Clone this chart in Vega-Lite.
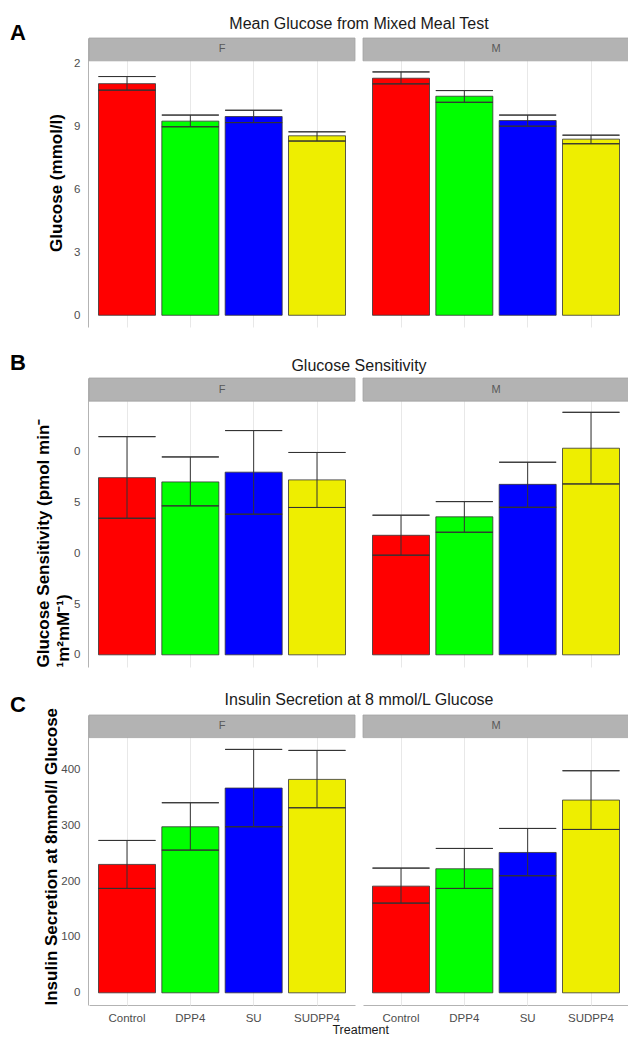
{
  "$schema": "https://vega.github.io/schema/vega-lite/v6.json",
  "background": "white",
  "padding": {"left": 10, "top": 16, "right": 0, "bottom": 0},
  "spacing": 25,
  "title": {"text": "Treatment", "orient": "bottom", "anchor": "middle", "dx": 41, "offset": 0, "fontSize": 12.5, "fontWeight": "normal", "color": "#1a1a1a"},
  "datasets": {
    "glucose": [
      {"Sex": "F", "Treatment": "Control", "mean": 11.06, "lower": 10.75, "upper": 11.40},
      {"Sex": "F", "Treatment": "DPP4", "mean": 9.27, "lower": 9.00, "upper": 9.56},
      {"Sex": "F", "Treatment": "SU", "mean": 9.49, "lower": 9.20, "upper": 9.79},
      {"Sex": "F", "Treatment": "SUDPP4", "mean": 8.57, "lower": 8.32, "upper": 8.76},
      {"Sex": "M", "Treatment": "Control", "mean": 11.32, "lower": 11.05, "upper": 11.62},
      {"Sex": "M", "Treatment": "DPP4", "mean": 10.46, "lower": 10.17, "upper": 10.73},
      {"Sex": "M", "Treatment": "SU", "mean": 9.30, "lower": 9.03, "upper": 9.56},
      {"Sex": "M", "Treatment": "SUDPP4", "mean": 8.41, "lower": 8.19, "upper": 8.60}
    ],
    "sensitivity": [
      {"Sex": "F", "Treatment": "Control", "mean": 87.3, "lower": 67.3, "upper": 107.5},
      {"Sex": "F", "Treatment": "DPP4", "mean": 85.2, "lower": 73.4, "upper": 97.5},
      {"Sex": "F", "Treatment": "SU", "mean": 90.0, "lower": 69.3, "upper": 110.5},
      {"Sex": "F", "Treatment": "SUDPP4", "mean": 86.2, "lower": 72.6, "upper": 99.7},
      {"Sex": "M", "Treatment": "Control", "mean": 58.9, "lower": 49.1, "upper": 68.8},
      {"Sex": "M", "Treatment": "DPP4", "mean": 68.0, "lower": 60.4, "upper": 75.5},
      {"Sex": "M", "Treatment": "SU", "mean": 84.0, "lower": 72.7, "upper": 94.9},
      {"Sex": "M", "Treatment": "SUDPP4", "mean": 101.8, "lower": 84.2, "upper": 119.5}
    ],
    "insulin": [
      {"Sex": "F", "Treatment": "Control", "mean": 229.9, "lower": 186.9, "upper": 272.8},
      {"Sex": "F", "Treatment": "DPP4", "mean": 297.3, "lower": 255.5, "upper": 340.3},
      {"Sex": "F", "Treatment": "SU", "mean": 366.6, "lower": 297.3, "upper": 435.8},
      {"Sex": "F", "Treatment": "SUDPP4", "mean": 382.1, "lower": 331.3, "upper": 434.0},
      {"Sex": "M", "Treatment": "Control", "mean": 191.0, "lower": 160.6, "upper": 223.3},
      {"Sex": "M", "Treatment": "DPP4", "mean": 222.1, "lower": 186.9, "upper": 258.5},
      {"Sex": "M", "Treatment": "SU", "mean": 251.3, "lower": 209.6, "upper": 294.3},
      {"Sex": "M", "Treatment": "SUDPP4", "mean": 345.1, "lower": 292.5, "upper": 397.6}
    ]
  },
  "vconcat": [
    {
      "data": {"name": "glucose"},
      "title": {"text": "A", "anchor": "start", "frame": "group", "dx": -79, "offset": -29, "fontSize": 22, "fontWeight": "bold", "color": "#000000"},
      "facet": {"column": {"field": "Sex", "type": "nominal", "header": {"title": "Mean Glucose from Mixed Meal Test", "titleFontSize": 16, "titleFontWeight": "normal", "titleColor": "#1a1a1a", "titlePadding": -5, "labelPadding": 0, "labels": false}}},
      "spacing": 6,
      "spec": {
        "width": 266,
        "height": 289,
        "layer": [
          {
            "transform": [{"aggregate": [{"op": "count", "as": "n"}], "groupby": ["Sex"]}],
            "mark": {"type": "rect", "fill": "#b3b3b3", "stroke": "#a3a3a3", "strokeWidth": 0.8},
            "encoding": {
              "x": {"value": 0}, "x2": {"value": "width"},
              "y": {"datum": 12.15, "type": "quantitative", "scale": {"domain": [-0.56, 13.24], "nice": false, "zero": false},
                "axis": {"title": "Glucose (mmol/l)", "titleFontSize": 17, "titleFontWeight": "bold", "titleColor": "#000000", "titlePadding": 8,
                  "values": [0, 1.5, 3, 4.5, 6, 7.5, 9, 10.5, 12],
                  "labelExpr": "datum.value % 3 === 0 ? slice(datum.label, -1) : ''",
                  "gridColor": {"condition": {"test": "datum.value % 3 !== 0", "value": "#f4f4f4"}, "value": "#e8e8e8"},
                  "ticks": false, "domainColor": "#b3b3b3", "labelColor": "#4d4d4d", "labelFontSize": 11.5, "labelPadding": 8}},
              "y2": {"datum": 13.24}
            }
          },
          {
            "transform": [{"aggregate": [{"op": "count", "as": "n"}], "groupby": ["Sex"]}],
            "mark": {"type": "text", "fontSize": 11, "color": "#595959", "baseline": "middle"},
            "encoding": {"y": {"datum": 12.7, "type": "quantitative"}, "text": {"field": "Sex"}}
          },
          {
            "mark": {"type": "bar", "stroke": "#333333", "strokeWidth": 0.8},
            "encoding": {
              "x": {"field": "Treatment", "type": "nominal", "sort": ["Control", "DPP4", "SU", "SUDPP4"], "scale": {"paddingInner": 0.1, "paddingOuter": 0.15},
                "axis": {"labels": false, "ticks": false, "domain": false, "title": null, "grid": true, "gridColor": "#e8e8e8", "bandPosition": 0.5}},
              "y": {"field": "mean", "type": "quantitative"},
              "color": {"field": "Treatment", "type": "nominal", "scale": {"domain": ["Control", "DPP4", "SU", "SUDPP4"], "range": ["#ff0000", "#00ff00", "#0000ff", "#eeee00"]}, "legend": null}
            }
          },
          {
            "mark": {"type": "rule", "color": "#333333", "strokeWidth": 1},
            "encoding": {
              "x": {"field": "Treatment", "type": "nominal", "sort": ["Control", "DPP4", "SU", "SUDPP4"]},
              "y": {"field": "lower", "type": "quantitative"}, "y2": {"field": "upper"}
            }
          },
          {
            "mark": {"type": "bar", "fillOpacity": 0, "stroke": "#333333", "strokeWidth": 1},
            "encoding": {
              "x": {"field": "Treatment", "type": "nominal", "sort": ["Control", "DPP4", "SU", "SUDPP4"]},
              "y": {"field": "upper", "type": "quantitative"}, "y2": {"field": "upper"}
            }
          },
          {
            "mark": {"type": "bar", "fillOpacity": 0, "stroke": "#333333", "strokeWidth": 1},
            "encoding": {
              "x": {"field": "Treatment", "type": "nominal", "sort": ["Control", "DPP4", "SU", "SUDPP4"]},
              "y": {"field": "lower", "type": "quantitative"}, "y2": {"field": "lower"}
            }
          }
        ]
      }
    },
    {
      "data": {"name": "sensitivity"},
      "title": {"text": "B", "anchor": "start", "frame": "group", "dx": -79, "offset": -17, "fontSize": 22, "fontWeight": "bold", "color": "#000000"},
      "facet": {"column": {"field": "Sex", "type": "nominal", "header": {"title": "Glucose Sensitivity", "titleFontSize": 16, "titleFontWeight": "normal", "titleColor": "#1a1a1a", "titlePadding": -7, "labelPadding": 0, "labels": false}}},
      "spacing": 6,
      "spec": {
        "width": 266,
        "height": 289,
        "layer": [
          {
            "transform": [{"aggregate": [{"op": "count", "as": "n"}], "groupby": ["Sex"]}],
            "mark": {"type": "rect", "fill": "#b3b3b3", "stroke": "#a3a3a3", "strokeWidth": 0.8},
            "encoding": {
              "x": {"value": 0}, "x2": {"value": "width"},
              "y": {"datum": 125, "type": "quantitative", "scale": {"domain": [-6, 136.4], "nice": false, "zero": false},
                "axis": {"title": ["Glucose Sensitivity (pmol min⁻", "¹m²mM⁻¹)"], "titleFontSize": 17, "titleFontWeight": "bold", "titleColor": "#000000", "titlePadding": 1, "titleLineHeight": 20, "titleAnchor": "start",
                  "values": [0, 12.5, 25, 37.5, 50, 62.5, 75, 87.5, 100, 112.5],
                  "labelExpr": "datum.value % 25 === 0 ? slice(datum.label, -1) : ''",
                  "gridColor": {"condition": {"test": "datum.value % 25 !== 0", "value": "#f4f4f4"}, "value": "#e8e8e8"},
                  "ticks": false, "domainColor": "#b3b3b3", "labelColor": "#4d4d4d", "labelFontSize": 11.5, "labelPadding": 8}},
              "y2": {"datum": 136.4}
            }
          },
          {
            "transform": [{"aggregate": [{"op": "count", "as": "n"}], "groupby": ["Sex"]}],
            "mark": {"type": "text", "fontSize": 11, "color": "#595959", "baseline": "middle"},
            "encoding": {"y": {"datum": 130.7, "type": "quantitative"}, "text": {"field": "Sex"}}
          },
          {
            "mark": {"type": "bar", "stroke": "#333333", "strokeWidth": 0.8},
            "encoding": {
              "x": {"field": "Treatment", "type": "nominal", "sort": ["Control", "DPP4", "SU", "SUDPP4"], "scale": {"paddingInner": 0.1, "paddingOuter": 0.15},
                "axis": {"labels": false, "ticks": false, "domain": false, "title": null, "grid": true, "gridColor": "#e8e8e8", "bandPosition": 0.5}},
              "y": {"field": "mean", "type": "quantitative"},
              "color": {"field": "Treatment", "type": "nominal", "scale": {"domain": ["Control", "DPP4", "SU", "SUDPP4"], "range": ["#ff0000", "#00ff00", "#0000ff", "#eeee00"]}, "legend": null}
            }
          },
          {
            "mark": {"type": "rule", "color": "#333333", "strokeWidth": 1},
            "encoding": {
              "x": {"field": "Treatment", "type": "nominal", "sort": ["Control", "DPP4", "SU", "SUDPP4"]},
              "y": {"field": "lower", "type": "quantitative"}, "y2": {"field": "upper"}
            }
          },
          {
            "mark": {"type": "bar", "fillOpacity": 0, "stroke": "#333333", "strokeWidth": 1},
            "encoding": {
              "x": {"field": "Treatment", "type": "nominal", "sort": ["Control", "DPP4", "SU", "SUDPP4"]},
              "y": {"field": "upper", "type": "quantitative"}, "y2": {"field": "upper"}
            }
          },
          {
            "mark": {"type": "bar", "fillOpacity": 0, "stroke": "#333333", "strokeWidth": 1},
            "encoding": {
              "x": {"field": "Treatment", "type": "nominal", "sort": ["Control", "DPP4", "SU", "SUDPP4"]},
              "y": {"field": "lower", "type": "quantitative"}, "y2": {"field": "lower"}
            }
          }
        ]
      }
    },
    {
      "data": {"name": "insulin"},
      "title": {"text": "C", "anchor": "start", "frame": "group", "dx": -79, "offset": -25, "fontSize": 22, "fontWeight": "bold", "color": "#000000"},
      "facet": {"column": {"field": "Sex", "type": "nominal", "header": {"title": "Insulin Secretion at 8 mmol/L Glucose", "titleFontSize": 16, "titleFontWeight": "normal", "titleColor": "#1a1a1a", "titlePadding": -4, "labelPadding": 0, "labels": false}}},
      "spacing": 6,
      "spec": {
        "width": 266,
        "height": 290,
        "layer": [
          {
            "transform": [{"aggregate": [{"op": "count", "as": "n"}], "groupby": ["Sex"]}],
            "mark": {"type": "rect", "fill": "#b3b3b3", "stroke": "#a3a3a3", "strokeWidth": 0.8},
            "encoding": {
              "x": {"value": 0}, "x2": {"value": "width"},
              "y": {"datum": 456.9, "type": "quantitative", "scale": {"domain": [-21.8, 497.4], "nice": false, "zero": false},
                "axis": {"title": "Insulin Secretion at 8mmol/l Glucose", "titleFontSize": 17, "titleFontWeight": "bold", "titleColor": "#000000", "titlePadding": 0, "titleAnchor": "start",
                  "values": [0, 50, 100, 150, 200, 250, 300, 350, 400, 450],
                  "labelExpr": "datum.value % 100 === 0 ? datum.label : ''",
                  "gridColor": {"condition": {"test": "datum.value % 100 !== 0", "value": "#f4f4f4"}, "value": "#e8e8e8"},
                  "ticks": false, "domainColor": "#b3b3b3", "labelColor": "#4d4d4d", "labelFontSize": 11.5, "labelPadding": 8}},
              "y2": {"datum": 497.4}
            }
          },
          {
            "transform": [{"aggregate": [{"op": "count", "as": "n"}], "groupby": ["Sex"]}],
            "mark": {"type": "text", "fontSize": 11, "color": "#595959", "baseline": "middle"},
            "encoding": {"y": {"datum": 477, "type": "quantitative"}, "text": {"field": "Sex"}}
          },
          {
            "mark": {"type": "bar", "stroke": "#333333", "strokeWidth": 0.8},
            "encoding": {
              "x": {"field": "Treatment", "type": "nominal", "sort": ["Control", "DPP4", "SU", "SUDPP4"], "scale": {"paddingInner": 0.1, "paddingOuter": 0.15},
                "axis": {"title": null, "labelColor": "#4d4d4d", "labelFontSize": 11.5, "labelAngle": 0, "labelPadding": 7, "ticks": false, "domain": true, "domainColor": "#b3b3b3", "grid": true, "gridColor": "#e8e8e8", "bandPosition": 0.5}},
              "y": {"field": "mean", "type": "quantitative"},
              "color": {"field": "Treatment", "type": "nominal", "scale": {"domain": ["Control", "DPP4", "SU", "SUDPP4"], "range": ["#ff0000", "#00ff00", "#0000ff", "#eeee00"]}, "legend": null}
            }
          },
          {
            "mark": {"type": "rule", "color": "#333333", "strokeWidth": 1},
            "encoding": {
              "x": {"field": "Treatment", "type": "nominal", "sort": ["Control", "DPP4", "SU", "SUDPP4"]},
              "y": {"field": "lower", "type": "quantitative"}, "y2": {"field": "upper"}
            }
          },
          {
            "mark": {"type": "bar", "fillOpacity": 0, "stroke": "#333333", "strokeWidth": 1},
            "encoding": {
              "x": {"field": "Treatment", "type": "nominal", "sort": ["Control", "DPP4", "SU", "SUDPP4"]},
              "y": {"field": "upper", "type": "quantitative"}, "y2": {"field": "upper"}
            }
          },
          {
            "mark": {"type": "bar", "fillOpacity": 0, "stroke": "#333333", "strokeWidth": 1},
            "encoding": {
              "x": {"field": "Treatment", "type": "nominal", "sort": ["Control", "DPP4", "SU", "SUDPP4"]},
              "y": {"field": "lower", "type": "quantitative"}, "y2": {"field": "lower"}
            }
          }
        ]
      }
    }
  ],
  "config": {
    "font": "Liberation Sans",
    "view": {"stroke": null},
    "axis": {"labelFont": "Liberation Sans", "titleFont": "Liberation Sans"},
    "header": {"titleFont": "Liberation Sans", "labelFont": "Liberation Sans"},
    "title": {"font": "Liberation Sans"}
  }
}
